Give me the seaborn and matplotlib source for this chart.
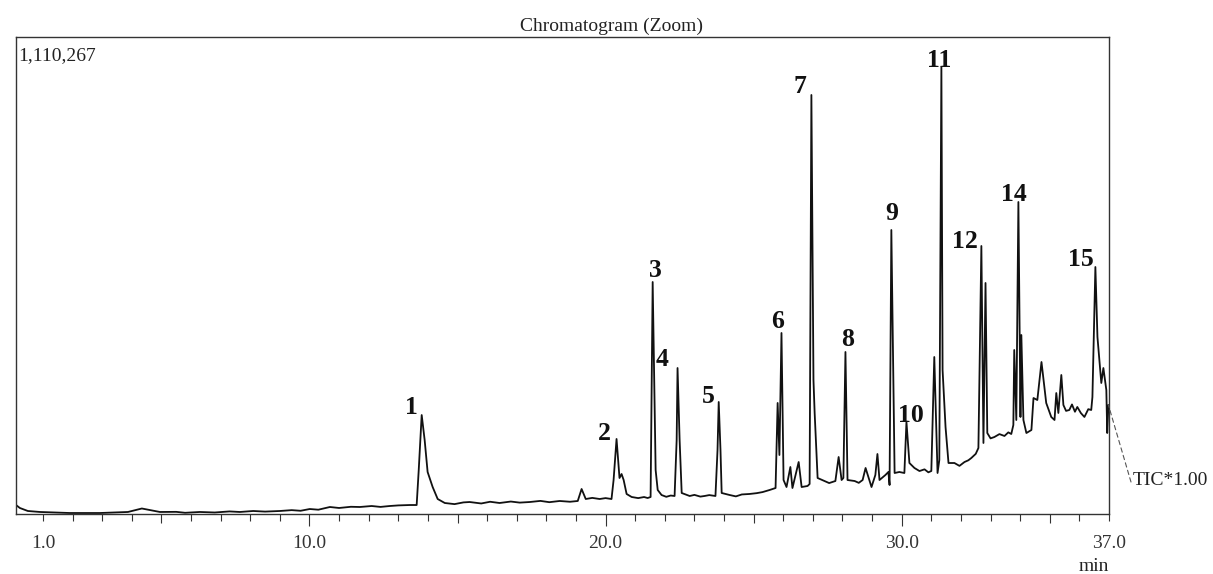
import matplotlib
matplotlib.use("Agg")
import matplotlib.pyplot as plt
import seaborn as sns
import pandas as pd

# ---------------- data ----------------
time_min = [0.09, 0.22, 0.49, 0.90, 1.91, 2.92, 3.87, 4.14, 4.34, 4.61, 4.95, 5.5, 5.8, 6.3, 6.8,
            7.3, 7.65, 8.1, 8.5, 9.0, 9.4, 9.7, 10.01, 10.3, 10.69, 11.0, 11.4, 11.7, 12.1, 12.4,
            12.71, 13.0, 13.39, 13.62, 13.69, 13.79, 13.89, 13.99, 14.16, 14.33, 14.57, 14.9, 15.2,
            15.41, 15.8, 16.1, 16.42, 16.8, 17.1, 17.44, 17.8, 18.1, 18.45, 18.8, 19.06, 19.19,
            19.33, 19.55, 19.80, 20.0, 20.20, 20.27, 20.37, 20.47, 20.54, 20.61, 20.71, 20.88,
            21.1, 21.3, 21.42, 21.52, 21.59, 21.69, 21.76, 21.89, 22.05, 22.2, 22.33, 22.40,
            22.43, 22.50, 22.57, 22.84, 23.0, 23.2, 23.34, 23.5, 23.71, 23.78, 23.82, 23.88,
            23.92, 24.19, 24.4, 24.6, 24.86, 25.1, 25.3, 25.54, 25.74, 25.81, 25.87, 25.94,
            26.01, 26.11, 26.24, 26.31, 26.52, 26.62, 26.82, 26.89, 26.95, 27.02, 27.06, 27.16,
            27.39, 27.55, 27.76, 27.87, 27.97, 28.03, 28.10, 28.17, 28.41, 28.55, 28.68, 28.78,
            28.98, 29.11, 29.18, 29.25, 29.45, 29.55, 29.59, 29.65, 29.76, 29.92, 30.09, 30.16,
            30.26, 30.43, 30.6, 30.77, 30.9, 31.00, 31.10, 31.21, 31.27, 31.34, 31.38, 31.48,
            31.58, 31.78, 31.95, 32.12, 32.25, 32.35, 32.5, 32.59, 32.69, 32.76, 32.83, 32.89,
            33.0, 33.13, 33.3, 33.47, 33.6, 33.70, 33.77, 33.80, 33.87, 33.94, 34.01, 34.04,
            34.11, 34.21, 34.38, 34.45, 34.58, 34.72, 34.88, 35.05, 35.16, 35.22, 35.29, 35.39,
            35.46, 35.55, 35.66, 35.75, 35.85, 35.93, 36.05, 36.17, 36.3, 36.40, 36.44, 36.54,
            36.61, 36.74, 36.81, 36.91, 36.94, 36.98]

intensity = [20900, 14000, 7000, 4700, 2300, 2300, 4700, 9300, 12800, 9300, 4700, 5000, 2800, 4700,
             3500, 6000, 4700, 7000, 5600, 7000, 9000, 7500, 11600, 10000, 16300, 14000, 16800,
             16300, 18600, 16500, 18600, 20000, 20900, 20900, 102400, 230400, 172200, 97800,
             62800, 34900, 25600, 23000, 27000, 27900, 24500, 28500, 25600, 29000, 26500, 27900,
             30500, 27500, 30300, 28500, 30300, 58200, 34900, 37500, 34900, 37000, 34900, 79100,
             174600, 83800, 93100, 79100, 46600, 39600, 37000, 39500, 37200, 39600, 540000,
             102400, 55900, 44200, 40000, 43000, 41900, 172200, 339800, 172200, 48900, 41900,
             44500, 40500, 41900, 44000, 41900, 149000, 260700, 149000, 48900, 44200, 41000,
             45500, 46600, 48500, 51000, 55900, 60500, 258400, 137300, 421300, 79100, 62800,
             109400, 60500, 121000, 62800, 65200, 69800, 975300, 311900, 235100, 83800, 76800,
             72000, 76800, 132700, 79100, 83800, 377100, 79100, 76800, 72500, 79100, 107100,
             62800, 90800, 139700, 79100, 90800, 97800, 67500, 661000, 95400, 97800, 95400,
             214100, 118700, 107100, 100000, 104000, 97000, 100100, 365400, 95400, 125700,
             1040400, 335200, 202500, 118700, 118700, 112000, 121000, 125000, 130300, 140000,
             153600, 623800, 165300, 537700, 188500, 176000, 179200, 186000, 181600, 190000,
             186200, 207200, 381700, 218800, 726200, 225800, 416600, 218800, 188500, 195500,
             270000, 265300, 353800, 258400, 225800, 218800, 281600, 235100, 323500, 253700,
             240000, 242100, 255000, 238000, 249100, 235000, 225800, 244000, 242100, 272300,
             574900, 412000, 304900, 339800, 288600, 188500, 253700]

peak_labels = ["1", "2", "3", "4", "5", "6", "7", "8", "9", "10", "11", "12", "14", "15"]
peak_times = [13.79, 20.37, 21.59, 22.43, 23.82, 25.94, 26.95, 28.10, 29.65, 30.16, 31.34,
              32.69, 33.94, 36.54]
peak_heights = [230400, 174600, 540000, 339800, 260700, 421300, 975300, 377100, 661000,
                214100, 1040400, 623800, 726200, 574900]

tick_values = list(range(1, 38))
tick_label_map = {1: "1.0", 10: "10.0", 20: "20.0", 30: "30.0", 37: "37.0"}
y_max = 1110267

# ---------------- layout / style ----------------
label_offsets_px = [(-10, 1.5), (-12, -1.5), (3, 5.5), (-15, 2.5), (-10, -1.5), (-4, 4.5),
                    (-11, 1.5), (2, 5.5), (0, 10.5), (4, 0.5), (-2, 0.5), (-16, -2.5),
                    (-5, 1.5), (-15, 1.5)]

sns.set_theme(style="white")
plt.rcParams["font.family"] = ["Liberation Serif", "DejaVu Serif"]

W, H = 1213, 574
fig = plt.figure(figsize=(W / 100, H / 100), dpi=100)
ax = fig.add_axes([16 / W, 1 - 514 / H, (1109 - 16) / W, (514 - 37) / H])

df = pd.DataFrame({"time": time_min, "intensity": intensity})
sns.lineplot(data=df, x="time", y="intensity", ax=ax, color="#111111", linewidth=1.3,
             sort=False, estimator=None)

ax.set_xlim(0.09, 37.0)
ax.set_ylim(0, y_max)
ax.set_xlabel("")
ax.set_ylabel("")
ax.set_yticks([])
ax.set_xticks(tick_values)
ax.set_xticklabels([tick_label_map.get(v, "") for v in tick_values])
ax.tick_params(axis="x", direction="out", length=5, width=0.8, pad=10,
               labelsize=14, colors="#333333", bottom=True)
for tk, v in zip(ax.xaxis.get_major_ticks(), tick_values):
    if v in (10, 20, 30):
        tk.tick1line.set_markersize(8.6)
    elif v % 5 == 0:
        tk.tick1line.set_markersize(6.5)
    else:
        tk.tick1line.set_markersize(5)
for lbl in ax.get_xticklabels():
    lbl.set_color("#333333")

for sp in ax.spines.values():
    sp.set_visible(True)
    sp.set_color("#333333")
    sp.set_linewidth(1.0)

for lab, t, h, (dx, dy) in zip(peak_labels, peak_times, peak_heights, label_offsets_px):
    ax.annotate(lab, xy=(t, h), xytext=(dx, dy), textcoords="offset pixels",
                ha="center", va="baseline", fontsize=18.5, fontweight="bold", color="#111111")

# leader line to TIC label
ax.annotate("", xy=(time_min[-1], intensity[-1]), xycoords="data",
            xytext=(1131 / W, 1 - 482 / H), textcoords="figure fraction",
            arrowprops=dict(arrowstyle="-", linestyle=(0, (4, 3)), color="#555555", lw=0.8,
                            shrinkA=0, shrinkB=0), annotation_clip=False)

fig.text(612 / W, 1 - 31 / H, "Chromatogram (Zoom)", ha="center", va="baseline",
         fontsize=14, color="#222222")
fig.text(18 / W, 1 - 60 / H, f"{y_max:,}", ha="left", va="baseline", fontsize=14,
         color="#222222")
fig.text(1133 / W, 1 - 485 / H, "TIC*1.00", ha="left", va="baseline", fontsize=14,
         color="#222222")
fig.text(1094 / W, 1 - 571 / H, "min", ha="center", va="baseline", fontsize=14,
         color="#222222")

fig.savefig("out.png", dpi=100, facecolor="white")
